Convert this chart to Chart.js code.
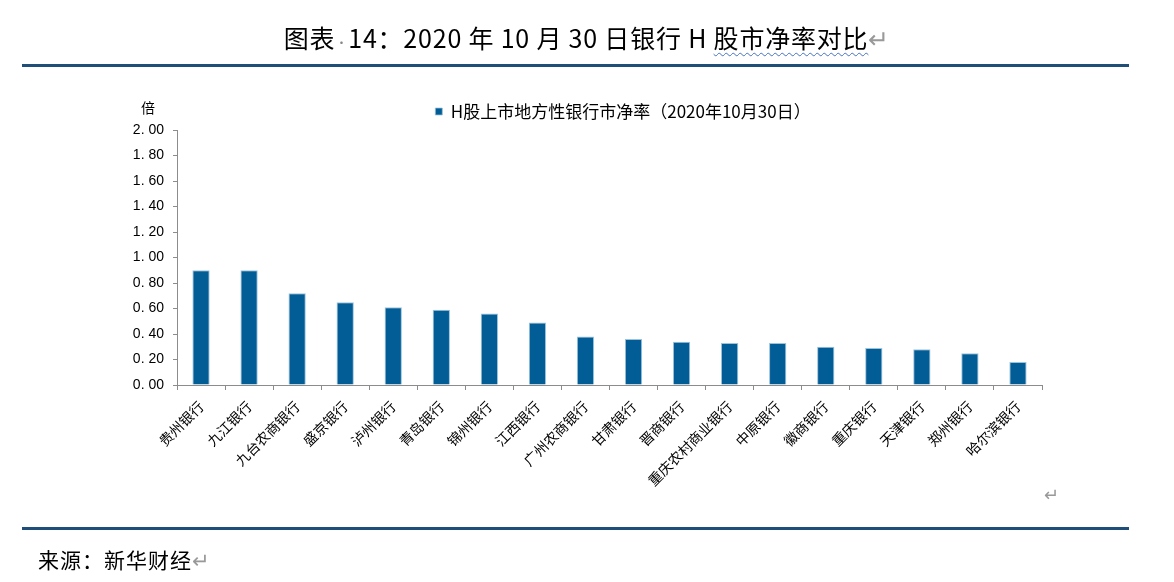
<!DOCTYPE html>
<html>
<head>
<meta charset="utf-8">
<script src="https://cdn.jsdelivr.net/npm/chart.js@4"></script>
<style>
  body { margin: 0; width: 1174px; height: 582px; background: #fff; position: relative; overflow: hidden;
         font-family: "Liberation Sans", "Noto Sans CJK SC", sans-serif; }
  #chartBox { position: absolute; left: 0; top: 0; width: 1174px; height: 582px; }
  .rule { position: absolute; left: 22px; width: 1107px; height: 3px; background: #1f4e79; }
  #title { position: absolute; left: 0; width: 1174px; top: 19px; text-align: center; font-size: 25px; color: #000;
           letter-spacing: 0.8px; font-family: "Noto Sans CJK SC", sans-serif; }
  #title .sq { text-decoration: underline wavy #4472c4; text-decoration-thickness: 1px; text-underline-offset: 4px; }
  .ret { color: #999; font-weight: normal; }
  .dot { color: #888; font-size: 12px; }
  #unit { position: absolute; left: 141px; top: 97px; font-size: 14px; font-family: "Noto Sans CJK SC", sans-serif; }
  #source { position: absolute; left: 38px; top: 544px; font-size: 21px; letter-spacing: 1px; font-family: "Noto Sans CJK SC", sans-serif; }
  #endMark { position: absolute; left: 1044px; top: 484px; font-size: 18px; color: #999; }
</style>
</head>
<body>
<div id="chartBox"><canvas id="pbChart" width="1174" height="582"></canvas></div>
<div id="title">图表<span class="dot">·</span>14：2020 年 10 月 30 日银行 H <span class="sq">股市净率对比</span><span class="ret">↵</span></div>
<div class="rule" style="top:64px"></div>
<div id="unit">倍</div>
<div id="endMark">↵</div>
<div class="rule" style="top:527px"></div>
<div id="source">来源：新华财经<span class="ret">↵</span></div>
<script>
// H股上市地方性银行市净率 (2020-10-30)
const banks = ['贵州银行', '九江银行', '九台农商银行', '盛京银行', '泸州银行', '青岛银行', '锦州银行', '江西银行', '广州农商银行',
               '甘肃银行', '晋商银行', '重庆农村商业银行', '中原银行', '徽商银行', '重庆银行', '天津银行', '郑州银行', '哈尔滨银行'];
const pbRatio = [0.90, 0.90, 0.72, 0.65, 0.61, 0.59, 0.56, 0.49, 0.38,
                 0.36, 0.34, 0.33, 0.33, 0.30, 0.29, 0.28, 0.25, 0.18];
const seriesName = 'H股上市地方性银行市净率（2020年10月30日）';
const yTicks = [0, 0.2, 0.4, 0.6, 0.8, 1.0, 1.2, 1.4, 1.6, 1.8, 2.0];

const axisGray = '#8c8c8c';
const fontFam = '"Liberation Sans", "Noto Sans CJK SC", sans-serif';

// legend sits a bit right of centre in the original
const shiftLegend = {
    id: 'shiftLegend',
    afterLayout(chart) {
        const lg = chart.legend;
        if (lg) { lg.left += 52; lg.right += 52; }
    }
};

const ctx = document.getElementById('pbChart').getContext('2d');
new Chart(ctx, {
    type: 'bar',
    data: {
        labels: banks,
        datasets: [{
            label: seriesName,
            data: pbRatio,
            backgroundColor: '#025d97',
            borderColor: '#9cc3dc',
            borderWidth: { top: 1, left: 1, right: 1, bottom: 0 },
            barPercentage: 0.36,
            categoryPercentage: 1
        }]
    },
    plugins: [shiftLegend],
    options: {
        responsive: false,
        animation: false,
        layout: { padding: { left: 100, right: 132, top: 91, bottom: 77 } },
        plugins: {
            tooltip: { enabled: false },
            legend: {
                position: 'top',
                labels: {
                    boxWidth: 7, boxHeight: 7, padding: 12,
                    color: '#000',
                    font: { size: 17, family: '"Noto Sans CJK SC", sans-serif' }
                }
            }
        },
        scales: {
            x: {
                grid: { display: true, drawOnChartArea: false, drawTicks: true, tickLength: 5, color: axisGray, offset: true },
                border: { color: axisGray, width: 1 },
                ticks: {
                    color: '#000', maxRotation: 45, minRotation: 45, autoSkip: false, padding: 8,
                    font: { size: 14, family: '"Noto Sans CJK SC", sans-serif' }
                },
                afterFit: (scale) => { scale.height = 120; }
            },
            y: {
                min: 0, max: 2,
                grid: { display: true, drawOnChartArea: false, drawTicks: true, tickLength: 4, color: axisGray },
                border: { color: axisGray, width: 1 },
                afterBuildTicks: (scale) => { scale.ticks = yTicks.map(v => ({ value: v })); },
                ticks: {
                    color: '#000', padding: 9,
                    font: { size: 14, family: fontFam },
                    callback: (v) => Number(v).toFixed(2).replace('.', '. ')
                },
                afterFit: (scale) => { scale.width = 77; }
            }
        }
    }
});
</script>
</body>
</html>
